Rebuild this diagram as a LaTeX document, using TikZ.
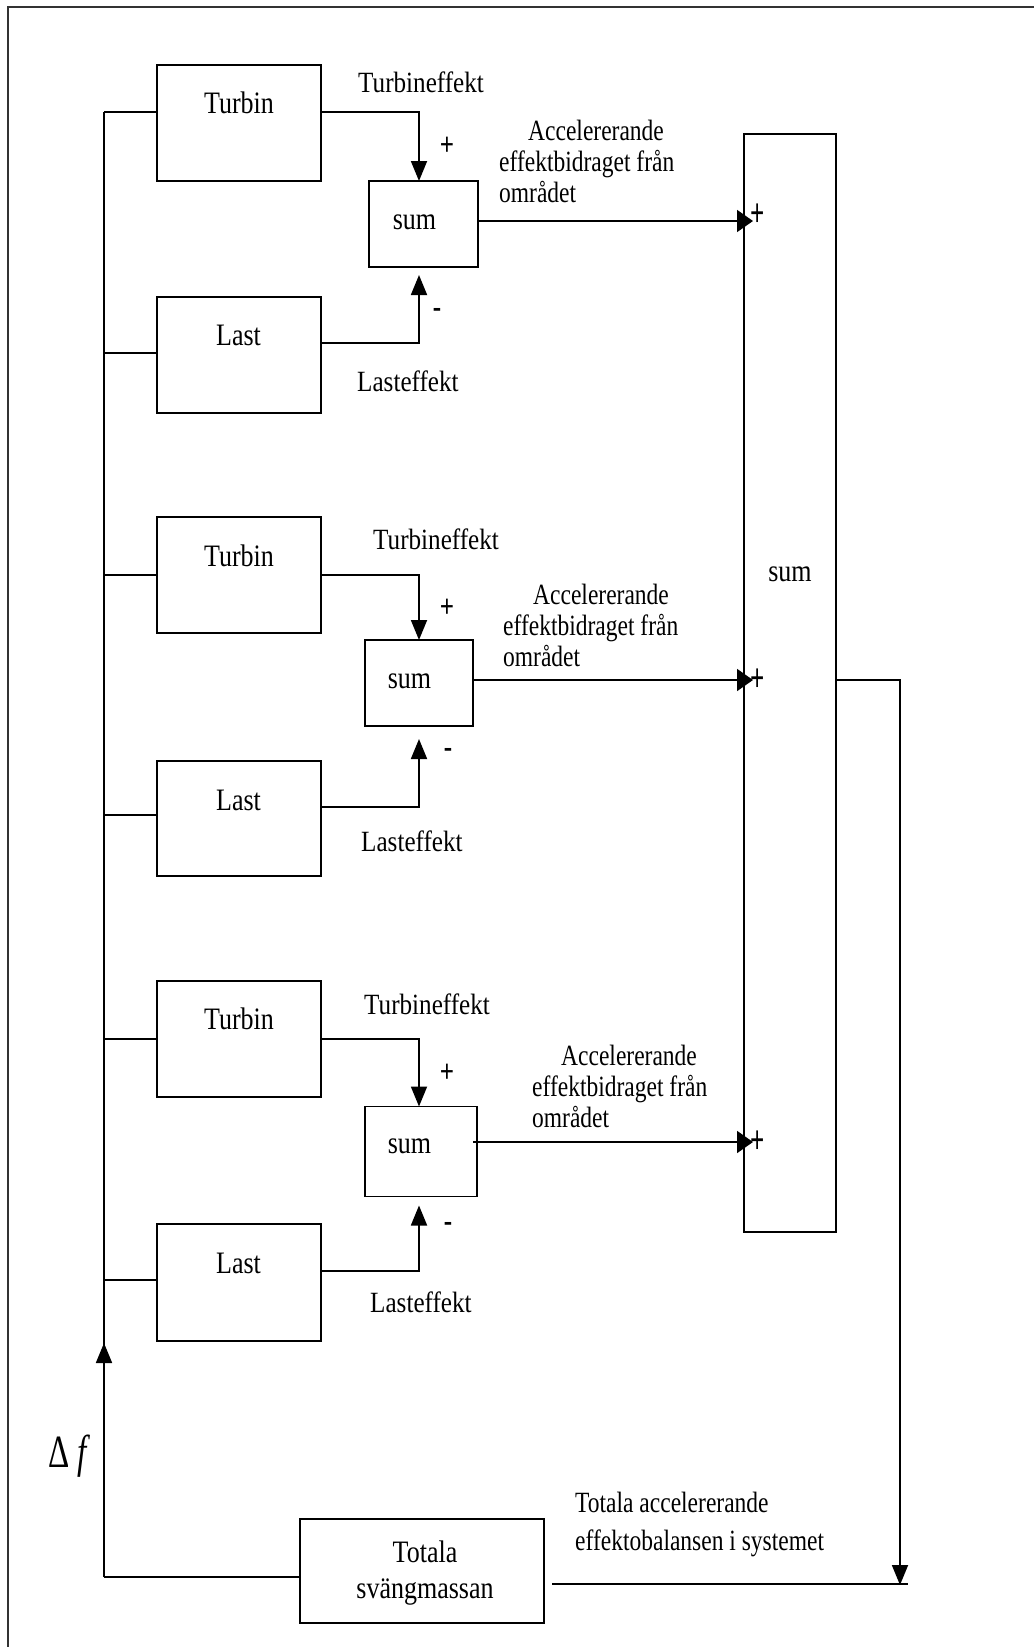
\documentclass[tikz,border=0pt]{standalone}
\usepackage{fontspec}
\setmainfont{Liberation Serif}
\usepackage{graphicx}
\usetikzlibrary{arrows.meta}
\newcommand{\tallbox}[2][1.25]{\scalebox{1}[#1]{#2}}
\newcommand{\widebox}[1]{\scalebox{1.07}[1.25]{#1}}
\begin{document}
\begin{tikzpicture}[x=1pt,y=-1pt,
  blk/.style={draw,line width=1.8pt,inner sep=0pt,outer sep=0pt},
  wire/.style={line width=1.8pt},
  vtip/.style={wire,-{Triangle[length=20pt,width=16pt]}},
  htip/.style={wire,-{Triangle[length=16pt,width=22pt]},shorten >=-9pt},
  boxlbl/.style={inner sep=0pt,anchor=base,font=\fontsize{26}{30}\selectfont},
  edgelbl/.style={inner sep=0pt,anchor=base west,font=\fontsize{23.5}{25}\selectfont},
  sgn/.style={inner sep=0pt,font=\fontsize{25}{27}\selectfont\bfseries}]
\useasboundingbox (0,0) rectangle (1034,1647);
% frame
\draw[line width=2.5pt,black!80] (8,1647) -- (8,7) -- (1034,7);

% blocks
\node[blk,minimum width=164pt,minimum height=116pt] (T1) at (239,123) {};
\node[blk,minimum width=164pt,minimum height=116pt] (L1) at (239,355) {};
\node[blk,minimum width=109pt,minimum height=86pt] (S1) at (423.5,224) {};
\node[blk,minimum width=164pt,minimum height=116pt] (T2) at (239,575) {};
\node[blk,minimum width=164pt,minimum height=115pt] (L2) at (239,818.5) {};
\node[blk,minimum width=108pt,minimum height=86pt] (S2) at (419,683) {};
\node[blk,minimum width=164pt,minimum height=116pt] (T3) at (239,1039) {};
\node[blk,minimum width=164pt,minimum height=117pt] (L3) at (239,1282.5) {};
\node[blk,minimum width=112pt,minimum height=90pt] (S3) at (421,1151.5) {};
\node[blk,minimum width=92pt,minimum height=1098pt] (B) at (790,683) {};
\node[blk,minimum width=244pt,minimum height=104pt] (M) at (422,1571) {};

% block labels
\node[boxlbl] (T1t) at (239,113) {\tallbox[1.2]{Turbin}};
\node[boxlbl] (L1t) at (238.5,345) {\tallbox[1.2]{Last}};
\node[boxlbl] (S1t) at (414.5,229) {\tallbox[1.2]{sum}};
\node[boxlbl] (T2t) at (239,566) {\tallbox[1.2]{Turbin}};
\node[boxlbl] (L2t) at (238.5,810) {\tallbox[1.2]{Last}};
\node[boxlbl] (S2t) at (409.5,688) {\tallbox[1.2]{sum}};
\node[boxlbl] (T3t) at (239,1029) {\tallbox[1.2]{Turbin}};
\node[boxlbl] (L3t) at (238.5,1273) {\tallbox[1.2]{Last}};
\node[boxlbl] (S3t) at (409.5,1153) {\tallbox[1.2]{sum}};
\node[boxlbl] (Bt) at (790,581) {\tallbox[1.2]{sum}};
\node[boxlbl] (Mt1) at (425,1562) {\tallbox[1.2]{Totala}};
\node[boxlbl] (Mt2) at (425,1598) {\tallbox[1.2]{svängmassan}};

% edge labels
\node[edgelbl] (e1a) at (358,92) {\widebox{Turbineffekt}};
\node[edgelbl] (e1b) at (357,391) {\widebox{Lasteffekt}};
\node[edgelbl] (e1c) at (499,140) {\tallbox{\begin{tabular}[t]{@{}l@{}}\hspace*{29pt}Accelererande\\effektbidraget från\\området\end{tabular}}};
\node[edgelbl] (e2a) at (373,549) {\widebox{Turbineffekt}};
\node[edgelbl] (e2b) at (361,851) {\widebox{Lasteffekt}};
\node[edgelbl] (e2c) at (503,604) {\tallbox{\begin{tabular}[t]{@{}l@{}}\hspace*{30pt}Accelererande\\effektbidraget från\\området\end{tabular}}};
\node[edgelbl] (e3a) at (364,1014) {\widebox{Turbineffekt}};
\node[edgelbl] (e3b) at (370,1312) {\widebox{Lasteffekt}};
\node[edgelbl] (e3c) at (532,1065) {\tallbox{\begin{tabular}[t]{@{}l@{}}\hspace*{29pt}Accelererande\\effektbidraget från\\området\end{tabular}}};
\node[edgelbl,font=\fontsize{23.5}{30.4}\selectfont] (eM) at (575,1512) {\tallbox{\begin{tabular}[t]{@{}l@{}}Totala accelererande\\effektobalansen i systemet\end{tabular}}};
\node[inner sep=0pt,anchor=base west,font=\fontsize{33}{36}\selectfont] (df) at (48,1467) {\tallbox[1.4]{Δ \textit{f}}};

% signs
\node[sgn] (p1) at (447,146) {\tallbox[1.3]{+}};
\node[sgn] (m1) at (437,313) {\tallbox[1.3]{-}};
\node[sgn] (p2) at (447,608) {\tallbox[1.3]{+}};
\node[sgn] (m2) at (448,753) {\tallbox[1.3]{-}};
\node[sgn] (p3) at (447,1073) {\tallbox[1.3]{+}};
\node[sgn] (m3) at (448,1227) {\tallbox[1.3]{-}};
\node[sgn] (q1) at (758,215) {\tallbox[1.6]{+}};
\node[sgn] (q2) at (758,680) {\tallbox[1.6]{+}};
\node[sgn] (q3) at (758,1142) {\tallbox[1.6]{+}};

% coordinates
\coordinate (busB) at (104,1577);
\coordinate (busA) at (104,1343);
\coordinate (jT1) at (104,112);
\coordinate (jL1) at (104,353);
\coordinate (jT2) at (104,575);
\coordinate (jL2) at (104,815);
\coordinate (jT3) at (104,1039);
\coordinate (jL3) at (104,1280);
\coordinate (vx) at (419,0);
\coordinate (mL1) at (0,343);
\coordinate (mL2) at (0,807);
\coordinate (mL3) at (0,1271);
\coordinate (o1) at (0,221);
\coordinate (o2) at (0,680);
\coordinate (o3) at (0,1142);
\coordinate (dn) at (900,1585);
\coordinate (hbL) at (552,1584);
\coordinate (hbR) at (908,1584);

% feedback bus
\draw[wire] (busB) -- (jT1);
\draw[vtip] (busB) -- (busA);
\draw[wire] (M.west |- busB) -- (busB);
\foreach \j/\b in {jT1/T1,jL1/L1,jT2/T2,jL2/L2,jT3/T3,jL3/L3}
  \draw[wire] (\j) -- (\b.west |- \j);

% into local sums
\draw[vtip] (T1.east |- jT1) -| (vx |- S1.north);
\draw[vtip,shorten >=8pt] (L1.east |- mL1) -| (vx |- S1.south);
\draw[vtip] (T2.east |- jT2) -| (vx |- S2.north);
\draw[vtip,shorten >=13pt] (L2.east |- mL2) -| (vx |- S2.south);
\draw[vtip] (T3.east |- jT3) -| (vx |- S3.north);
\draw[vtip,shorten >=9pt] (L3.east |- mL3) -| (vx |- S3.south);

% into big sum
\draw[htip] (S1.east |- o1) -- (B.west |- o1);
\draw[htip] (S2.east |- o2) -- (B.west |- o2);
\draw[htip] ([xshift=-4pt]S3.east |- o3) -- (B.west |- o3);

% output of big sum
\draw[vtip] (B.east |- o2) -| (dn);
\draw[wire] (hbL) -- (hbR);
\end{tikzpicture}
\end{document}
